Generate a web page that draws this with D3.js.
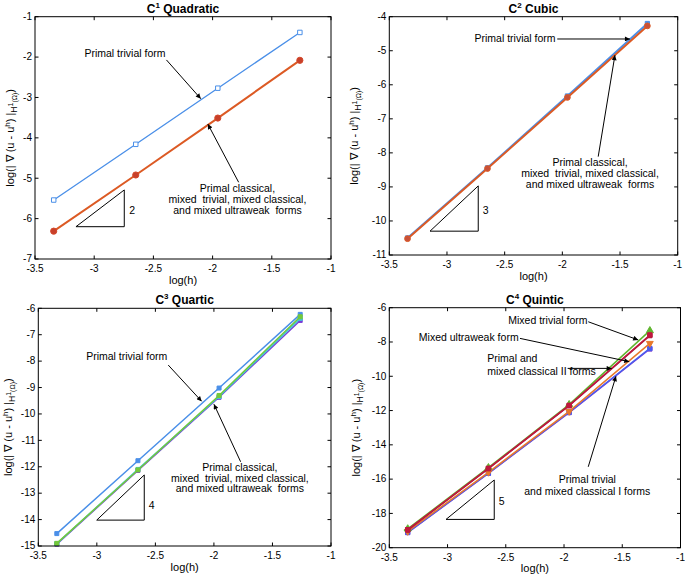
<!DOCTYPE html>
<html><head><meta charset="utf-8">
<script src="https://cdn.jsdelivr.net/npm/d3@7"></script>
<style>body{margin:0;background:#fff}svg{display:block}text{font-family:"Liberation Sans",Arial,Helvetica,sans-serif}</style>
</head><body>
<script>
// ---------- data ----------
const logH = [-3.342, -2.649, -1.956, -1.263];
const xTicks = [-3.5, -3, -2.5, -2, -1.5, -1];

const quadPrimalTrivial = [-5.54, -4.16, -2.77, -1.39];
const quadOthers        = [-6.31, -4.92, -3.51, -2.08];

const cubicPrimalTrivial = [-10.50, -8.44, -6.33, -4.20];
const cubicOthers        = [-10.52, -8.46, -6.37, -4.27];

const quarticPrimalTrivial   = [-14.53, -11.77, -9.02, -6.23];
const quarticPrimalClassical = [-14.90, -12.12, -9.30, -6.32];
const quarticMixedTrivial    = [-14.91, -12.10, -9.34, -6.38];
const quarticMixedClassical  = [-14.93, -12.14, -9.37, -6.46];

const quinticMixedTrivial     = [-18.90, -15.33, -11.65, -7.34];
const quinticPrimalClassical  = [-18.95, -15.37, -11.70, -7.59];
const quinticMixedClassicalII = [-18.97, -15.39, -11.72, -7.63];
const quinticMixedUltraweak   = [-19.05, -15.60, -12.05, -8.08];
const quinticPrimalTrivial    = [-19.10, -15.65, -12.10, -8.37];
const quinticMixedClassicalI  = [-19.12, -15.66, -12.12, -8.41];

const yTicksQuad = [-7, -6, -5, -4, -3, -2, -1];
const yTicksCubic = [-11, -10, -9, -8, -7, -6, -5, -4];
const yTicksQuartic = [-15, -14, -13, -12, -11, -10, -9, -8, -7, -6];
const yTicksQuintic = [-20, -18, -16, -14, -12, -10, -8, -6];

// ---------- drawing ----------
const W = 685, H = 575;
const svg = d3.select("body").append("svg").attr("width", W).attr("height", H);
const defs = svg.append("defs");
defs.append("marker").attr("id", "ah").attr("viewBox", "0 0 10 10").attr("refX", 10).attr("refY", 5)
  .attr("markerWidth", 7).attr("markerHeight", 5).attr("markerUnits", "userSpaceOnUse").attr("orient", "auto")
  .append("path").attr("d", "M0,0 L10,5 L0,10 Z").attr("fill", "#000");

const FS = 10.5, TFS = 10;

function drawPanel(p) {
  const g = svg.append("g");
  const x = d3.scaleLinear().domain([-3.5, -1]).range([p.left, p.right]);
  const y = d3.scaleLinear().domain(p.yDomain).range([p.bottom, p.top]);

  // series
  p.series.forEach(s => {
    const pts = logH.map((v, i) => [v, s.values[i]]);
    g.append("path").datum(pts)
      .attr("d", d3.line().x(d => x(d[0])).y(d => y(d[1])))
      .attr("fill", "none").attr("stroke", s.color).attr("stroke-width", s.width || 1.3);
    const sym = d3.symbol().type(s.marker || d3.symbolSquare).size(s.msize || 16);
    g.selectAll(null).data(pts).enter().append("path")
      .attr("transform", d => `translate(${x(d[0])},${y(d[1])})${s.rot ? " rotate(180)" : ""}`)
      .attr("d", sym)
      .attr("fill", s.open ? "#fff" : (s.fill || s.color))
      .attr("stroke", s.mstroke || s.color).attr("stroke-width", 1);
  });

  // box
  g.append("rect").attr("x", p.left).attr("y", p.top)
    .attr("width", p.right - p.left).attr("height", p.bottom - p.top)
    .attr("fill", "none").attr("stroke", "#000").attr("stroke-width", 1);

  // ticks (inside, mirrored on all four sides)
  const tl = 3.5;
  xTicks.forEach(t => {
    g.append("line").attr("x1", x(t)).attr("x2", x(t)).attr("y1", p.bottom).attr("y2", p.bottom - tl).attr("stroke", "#000");
    g.append("line").attr("x1", x(t)).attr("x2", x(t)).attr("y1", p.top).attr("y2", p.top + tl).attr("stroke", "#000");
    g.append("text").attr("x", x(t)).attr("y", p.bottom + 13).attr("text-anchor", "middle")
      .attr("font-size", TFS).text(t);
  });
  p.yTicks.forEach(t => {
    g.append("line").attr("x1", p.left).attr("x2", p.left + tl).attr("y1", y(t)).attr("y2", y(t)).attr("stroke", "#000");
    g.append("line").attr("x1", p.right).attr("x2", p.right - tl).attr("y1", y(t)).attr("y2", y(t)).attr("stroke", "#000");
    g.append("text").attr("x", p.left - 3).attr("y", y(t) + 3.3).attr("text-anchor", "end")
      .attr("font-size", TFS).text(t);
  });

  // x label
  g.append("text").attr("x", (p.left + p.right) / 2).attr("y", p.bottom + 24.5).attr("text-anchor", "middle")
    .attr("font-size", 11).text("log(h)");

  // y label
  const cy = (p.top + p.bottom) / 2;
  const yl = g.append("text").attr("transform", `translate(${p.ylx},${cy}) rotate(-90)`)
    .attr("text-anchor", "middle").attr("font-size", 11);
  yl.append("tspan").text("log(| ∇ (u - u");
  yl.append("tspan").attr("dy", -4.5).attr("font-size", 8).text("h");
  yl.append("tspan").attr("dy", 4.5).text(") |");
  yl.append("tspan").attr("dy", 3).attr("font-size", 8.5).text("H");
  yl.append("tspan").attr("dy", -4).attr("font-size", 7).text("1");
  yl.append("tspan").attr("dy", 4).attr("font-size", 7).text("(Ω)");
  yl.append("tspan").attr("dy", -3).text(")");

  // title
  const tt = g.append("text").attr("x", (p.left + p.right) / 2).attr("y", p.top - 4)
    .attr("text-anchor", "middle").attr("font-size", 12).attr("font-weight", "bold");
  tt.append("tspan").text("C");
  tt.append("tspan").attr("dy", -5).attr("font-size", 8).text(p.sup);
  tt.append("tspan").attr("dy", 5).text(" " + p.title);

  // slope triangle
  const tr = p.tri;
  g.append("path").attr("d", `M${x(tr.x1)},${y(tr.yb)} L${x(tr.x2)},${y(tr.yb)} L${x(tr.x2)},${y(tr.yt)} Z`)
    .attr("fill", "none").attr("stroke", "#000").attr("stroke-width", 1);
  g.append("text").attr("x", x(tr.lx)).attr("y", y(tr.ly) + 3.5).attr("text-anchor", "middle")
    .attr("font-size", FS).text(tr.label);

  // annotations
  p.arrows.forEach(a => {
    g.append("line").attr("x1", x(a[0])).attr("y1", y(a[1])).attr("x2", x(a[2])).attr("y2", y(a[3]))
      .attr("stroke", "#000").attr("stroke-width", 1).attr("marker-end", "url(#ah)");
  });
  p.notes.forEach(n => {
    g.append("text").attr("x", x(n.x)).attr("y", y(n.y)).attr("text-anchor", n.anchor || "middle")
      .attr("font-size", FS).attr("xml:space", "preserve").style("white-space", "pre").text(n.t);
  });
}

const blue = "#4a8fe8", orange = "#dc5a24";

drawPanel({
  left: 35, right: 331, top: 16.7, bottom: 259, ylx: 14, yDomain: [-7, -1], yTicks: yTicksQuad,
  sup: "1", title: "Quadratic",
  series: [
    { values: quadPrimalTrivial, color: blue, open: true, msize: 20, width: 1.3 },
    { values: quadOthers, color: orange, fill: "#c8402a", mstroke: "#d4482a", marker: d3.symbolCircle, msize: 30, width: 2 }
  ],
  tri: { x1: -3.154, x2: -2.746, yb: -6.20, yt: -5.29, label: "2", lx: -2.68, ly: -5.80 },
  arrows: [[-2.39, -2.07, -2.10, -3.03], [-1.78, -5.10, -2.04, -3.66]],
  notes: [
    { x: -2.74, y: -2.0, t: "Primal trivial form" },
    { x: -1.79, y: -5.34, t: "Primal classical," },
    { x: -1.79, y: -5.61, t: "mixed  trivial, mixed classical," },
    { x: -1.79, y: -5.88, t: "and mixed ultraweak  forms" }
  ]
});

drawPanel({
  left: 389.3, right: 677.7, top: 16.7, bottom: 255, ylx: 358, yDomain: [-11, -4], yTicks: yTicksCubic,
  sup: "2", title: "Cubic",
  series: [
    { values: cubicPrimalTrivial, color: blue, msize: 18, width: 2 },
    { values: cubicOthers, color: orange, fill: "#c8503a", marker: d3.symbolCircle, msize: 26, width: 2 }
  ],
  tri: { x1: -3.147, x2: -2.729, yb: -10.30, yt: -8.97, label: "3", lx: -2.665, ly: -9.70 },
  arrows: [[-2.044, -4.655, -1.414, -4.655], [-1.689, -8.11, -1.544, -5.13]],
  notes: [
    { x: -2.41, y: -4.74, t: "Primal trivial form" },
    { x: -1.76, y: -8.39, t: "Primal classical," },
    { x: -1.76, y: -8.71, t: "mixed  trivial, mixed classical," },
    { x: -1.76, y: -9.04, t: "and mixed ultraweak  forms" }
  ]
});

drawPanel({
  left: 38.3, right: 331, top: 308.3, bottom: 546, ylx: 12, yDomain: [-15, -6], yTicks: yTicksQuartic,
  sup: "3", title: "Quartic",
  series: [
    { values: quarticPrimalTrivial, color: blue, msize: 16, width: 1.5 },
    { values: quarticMixedClassical, color: "#7a3ed6", msize: 16, width: 1.5 },
    { values: quarticMixedTrivial, color: "#3fc6d8", msize: 16, width: 1.5 },
    { values: quarticPrimalClassical, color: "#74c83a", msize: 16, width: 1.5 }
  ],
  tri: { x1: -3.001, x2: -2.595, yb: -14.02, yt: -12.31, label: "4", lx: -2.532, ly: -13.45 },
  arrows: [[-2.39, -8.15, -2.105, -9.52], [-1.772, -11.81, -2.0, -9.63]],
  notes: [
    { x: -2.745, y: -7.96, t: "Primal trivial form" },
    { x: -1.778, y: -12.16, t: "Primal classical," },
    { x: -1.778, y: -12.57, t: "mixed  trivial, mixed classical," },
    { x: -1.778, y: -12.97, t: "and mixed ultraweak  forms" }
  ]
});

drawPanel({
  left: 389.3, right: 680.5, top: 307.7, bottom: 547.7, ylx: 360, yDomain: [-20, -6], yTicks: yTicksQuintic,
  sup: "4", title: "Quintic",
  series: [
    { values: quinticMixedClassicalI, color: "#7b3fcf", msize: 18, width: 1.5 },
    { values: quinticPrimalTrivial, color: "#4a5cf0", msize: 18, width: 1.5 },
    { values: quinticMixedUltraweak, color: "#e8782a", marker: d3.symbolTriangle, rot: true, msize: 20, width: 1.5 },
    { values: quinticMixedTrivial, color: "#5fb52e", marker: d3.symbolTriangle, msize: 22, width: 1.5 },
    { values: quinticMixedClassicalII, color: "#a4163a", msize: 18, width: 1.5 },
    { values: quinticPrimalClassical, color: "#c0183e", msize: 20, width: 1.5 }
  ],
  tri: { x1: -3.013, x2: -2.599, yb: -18.35, yt: -16.05, label: "5", lx: -2.535, ly: -17.28 },
  arrows: [[-1.792, -6.82, -1.363, -7.88], [-2.378, -7.79, -1.44, -9.15], [-1.969, -9.54, -1.591, -9.54], [-1.792, -15.28, -1.554, -10.0]],
  notes: [
    { x: -2.138, y: -6.95, t: "Mixed trivial form" },
    { x: -2.818, y: -7.94, t: "Mixed ultraweak form" },
    { x: -2.659, y: -9.19, t: "Primal and", anchor: "start" },
    { x: -2.659, y: -9.93, t: "mixed classical II forms", anchor: "start" },
    { x: -1.80, y: -16.25, t: "Primal trivial" },
    { x: -1.80, y: -16.92, t: "and mixed classical I forms" }
  ]
});
</script>
</body></html>
